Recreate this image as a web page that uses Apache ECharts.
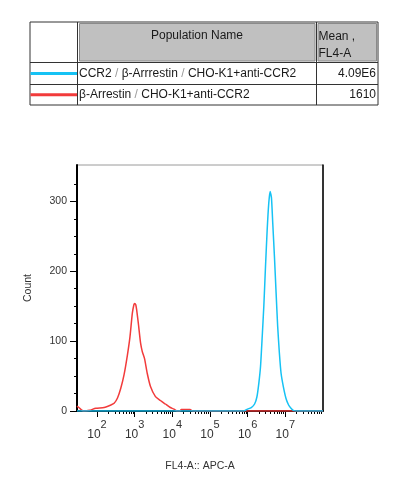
<!DOCTYPE html>
<html><head><meta charset="utf-8">
<script src="https://cdn.jsdelivr.net/npm/echarts@6/dist/echarts.min.js"></script>
<style>html,body{margin:0;padding:0;background:#fff}#c{width:393px;height:482px}</style>
</head><body><div id="c"></div>
<script>
// ---- data ----
const populationNames = ['CCR2 / β-Arrrestin / CHO-K1+anti-CCR2', 'β-Arrestin / CHO-K1+anti-CCR2'];
const populationMeans = ['4.09E6', '1610'];
const populationColors = ['#16c2f4', '#f23b3b'];
const headerName = 'Population Name';
const headerMean = ['Mean ,', 'FL4-A'];
const decadeExponents = [2, 3, 4, 5, 6, 7];
const yTickLabels = [0, 100, 200, 300];
// x = log10(FL4-A intensity), y = count
const redLog =   [1.47,1.52,1.58,1.65,1.80,1.97,2.19,2.37,2.455,2.545,2.632,2.718,2.808,2.876,2.939,2.98,3.00,3.03,3.053,3.097,3.158,3.203,3.263,3.334,3.421,3.553,3.684,3.816,3.947,4.034,4.13,4.20,4.24,4.47,4.55,8.0];
const redCount = [7,   5,   2,   0,   1,   4,   5,   8.6, 11,   18.6, 32.5, 51.6, 80,   106,  140,  152, 154, 152, 145,  126,  97,   85,   75,   54,   35,   20.5, 15,   10,   5,    3,    0,   0,   2,   2,   0,   0];
const blueLog =   [1.47,5.90,5.966,6.097,6.184,6.245,6.297,6.342,6.387,6.429,6.474,6.518,6.561,6.597,6.632,6.666,6.711,6.755,6.797,6.842,6.887,6.947,7.018,7.087,7.15,7.211,7.30,8.0];
const blueCount = [0,   0,   2,    5,    10,   20,   40,   64,   107,  150,  207,  259,  298,  314,  305,  269,  221,  169,  121,  83,   54,   35,   18,   8.6,  4,   1,    0,   0];

// ---- build ----
const FONT = '"Liberation Sans", Arial, sans-serif';
const xMin = 1.47, xMax = 8, yMax = 352;
const minorX = [];
for (let n = 2; n < 8; n++) for (let k = 2; k <= 9; k++) minorX.push(n + Math.log10(k));
const minorY = [];
for (let v = 0; v <= 325; v += 25) minorY.push(v);
const zip = (a, b) => a.map((v, i) => [v, b[i]]);

const chart = echarts.init(document.getElementById('c'), null, {renderer: 'canvas'});

const tbl = {x0: 30, x1: 77.5, x2: 316.5, x3: 378, y0: 22, y1: 62.5, y2: 84.5, y3: 105};
const rowMid = [(tbl.y1 + tbl.y2) / 2, (tbl.y2 + tbl.y3) / 2];
const TF = '12px ' + FONT;
const graphics = [
  {type: 'rect', shape: {x: tbl.x1 + 2, y: tbl.y0 + 1.5, width: tbl.x2 - tbl.x1 - 3.5, height: tbl.y1 - tbl.y0 - 3}, style: {fill: '#c0c0c0', stroke: '#8a8a8a', lineWidth: 1}},
  {type: 'rect', shape: {x: tbl.x2 + 1.5, y: tbl.y0 + 1.5, width: tbl.x3 - tbl.x2 - 3, height: tbl.y1 - tbl.y0 - 3}, style: {fill: '#c0c0c0', stroke: '#8a8a8a', lineWidth: 1}},
  {type: 'rect', shape: {x: tbl.x0, y: tbl.y0, width: tbl.x3 - tbl.x0, height: tbl.y3 - tbl.y0}, style: {fill: 'none', stroke: '#333', lineWidth: 1}},
  {type: 'line', shape: {x1: tbl.x1, y1: tbl.y0, x2: tbl.x1, y2: tbl.y3}, style: {stroke: '#333', lineWidth: 1}},
  {type: 'line', shape: {x1: tbl.x2, y1: tbl.y0, x2: tbl.x2, y2: tbl.y3}, style: {stroke: '#333', lineWidth: 1}},
  {type: 'line', shape: {x1: tbl.x0, y1: tbl.y1, x2: tbl.x3, y2: tbl.y1}, style: {stroke: '#333', lineWidth: 1}},
  {type: 'line', shape: {x1: tbl.x0, y1: tbl.y2, x2: tbl.x3, y2: tbl.y2}, style: {stroke: '#333', lineWidth: 1}},
  {type: 'text', x: (tbl.x1 + tbl.x2) / 2, y: 36, style: {text: headerName, fill: '#1a1a1a', font: TF, align: 'center', verticalAlign: 'middle'}},
  {type: 'text', x: tbl.x2 + 2, y: 37, style: {text: headerMean[0], fill: '#1a1a1a', font: TF, align: 'left', verticalAlign: 'middle'}},
  {type: 'text', x: tbl.x2 + 2, y: 54, style: {text: headerMean[1], fill: '#1a1a1a', font: TF, align: 'left', verticalAlign: 'middle'}}
];
populationNames.forEach((name, i) => {
  const parts = name.split(' / ');
  const rich = parts.map(p => '{t|' + p + '}').join('{s| / }');
  graphics.push({type: 'line', shape: {x1: tbl.x0 + 0.5, y1: rowMid[i], x2: tbl.x1 - 0.5, y2: rowMid[i]}, style: {stroke: populationColors[i], lineWidth: 3}});
  graphics.push({type: 'text', x: tbl.x1 + 1.5, y: rowMid[i], style: {text: rich, align: 'left', verticalAlign: 'middle',
    rich: {t: {fill: '#1a1a1a', font: TF}, s: {fill: '#9a9a9a', font: TF}}}});
  graphics.push({type: 'text', x: tbl.x3 - 2, y: rowMid[i], style: {text: populationMeans[i], fill: '#1a1a1a', font: TF, align: 'right', verticalAlign: 'middle'}});
});

const option = {
  animation: false,
  backgroundColor: '#fff',
  grid: {left: 77, right: 70, top: 165, bottom: 71, show: true, borderColor: '#9a9a9a', borderWidth: 1, backgroundColor: 'transparent'},
  xAxis: [
    {type: 'value', min: xMin, max: xMax, position: 'bottom', splitLine: {show: false},
     axisLine: {show: true, onZero: false, lineStyle: {color: '#000', width: 2}},
     axisTick: {show: true, customValues: decadeExponents, length: 6, lineStyle: {color: '#000', width: 1}},
     axisLabel: {show: true, customValues: decadeExponents, margin: 8,
       formatter: v => '{b|10}{s|' + v + '}',
       rich: {b: {fontFamily: FONT, fontSize: 12, color: '#333', verticalAlign: 'bottom'},
              s: {fontFamily: FONT, fontSize: 11, color: '#333', padding: [0, 0, 11, 0], verticalAlign: 'bottom'}}},
     name: 'FL4-A:: APC-A', nameLocation: 'middle', nameGap: 50,
     nameTextStyle: {fontFamily: FONT, fontSize: 10.5, color: '#333'}},
    {type: 'value', min: xMin, max: xMax, position: 'bottom', splitLine: {show: false},
     axisLine: {show: false, onZero: false},
     axisTick: {show: true, customValues: minorX, length: 3, lineStyle: {color: '#000', width: 1}},
     axisLabel: {show: false}}
  ],
  yAxis: [
    {type: 'value', min: 0, max: yMax, position: 'left', splitLine: {show: false},
     axisLine: {show: true, onZero: false, lineStyle: {color: '#000', width: 2}},
     axisTick: {show: true, customValues: yTickLabels, length: 7, lineStyle: {color: '#000', width: 1}},
     axisLabel: {show: true, customValues: yTickLabels, margin: 10, fontFamily: FONT, fontSize: 10.5, color: '#333'},
     name: 'Count', nameLocation: 'middle', nameGap: 43, nameRotate: 90,
     nameTextStyle: {fontFamily: FONT, fontSize: 10.5, color: '#333'}},
    {type: 'value', min: 0, max: yMax, position: 'left', splitLine: {show: false},
     axisLine: {show: false, onZero: false},
     axisTick: {show: true, customValues: minorY, length: 3, lineStyle: {color: '#000', width: 1}},
     axisLabel: {show: false}},
    {type: 'value', min: 0, max: yMax, position: 'right', splitLine: {show: false},
     axisLine: {show: true, onZero: false, lineStyle: {color: '#000', width: 1.5}},
     axisTick: {show: false}, axisLabel: {show: false}}
  ],
  series: [
    {type: 'line', name: populationNames[1], data: zip(redLog, redCount), showSymbol: false, smooth: 0.2,
     lineStyle: {color: populationColors[1], width: 1.5}, itemStyle: {color: populationColors[1]}, z: 2},
    {type: 'line', name: populationNames[0], data: zip(blueLog, blueCount), showSymbol: false, smooth: 0.2,
     lineStyle: {color: populationColors[0], width: 1.5}, itemStyle: {color: populationColors[0]}, z: 3}
  ],
  graphic: graphics
};
chart.setOption(option);
</script>
</body></html>
